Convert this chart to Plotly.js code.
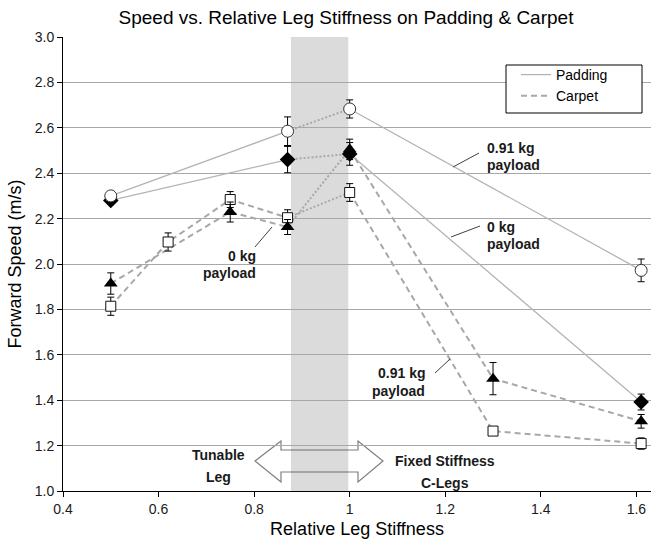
<!DOCTYPE html>
<html><head><meta charset="utf-8">
<script src="https://cdn.plot.ly/plotly-3.0.1.min.js"></script>
<style>html,body{margin:0;padding:0;background:#fff}#chart{width:652px;height:542px}</style>
</head><body><div id="chart"></div>
<script>
// ---- data ----
const padX = [0.5, 0.87, 1.0, 1.61];
const pad0kg = [2.28, 2.46, 2.485, 1.392];
const pad0kgErr = [0.01, 0.058, 0.05, 0.035];
const pad091kg = [2.30, 2.585, 2.683, 1.972];
const pad091kgErr = [0.015, 0.063, 0.04, 0.05];
const carX091 = [0.5, 0.62, 0.75, 0.87, 1.0, 1.3, 1.61];
const car091kg = [1.814, 2.097, 2.284, 2.204, 2.315, 1.264, 1.209];
const car091kgErr = [0.04, 0.04, 0.035, 0.035, 0.039, 0.015, 0.025];
const carX0 = [0.5, 0.75, 0.87, 1.0, 1.3, 1.61];
const car0kg = [1.914, 2.229, 2.163, 2.505, 1.495, 1.307];
const car0kgErr = [0.047, 0.044, 0.033, 0.045, 0.071, 0.03];
const tunableBand = [0.877, 0.997];
const tunableLo = 0.87, tunableHi = 1.0;
const legendNames = ['Padding', 'Carpet'];

// ---- styles ----
const FONT = 'Liberation Sans, Arial, sans-serif';
const solid = {color:'#b4b4b4', width:1.3};
const dashed = {color:'#a8a8a8', width:2, dash:'6px,4px'};
const dotted = {color:'#a8a8a8', width:2, dash:'2px,2px'};

function seg(xs, ys, lo, hi){
  const x=[], y=[];
  xs.forEach((v,i)=>{ if(v>=lo-1e-9 && v<=hi+1e-9){ x.push(v); y.push(ys[i]); } });
  return {x, y};
}
function lineTraces(xs, ys, outerStyle){
  const parts = [
    [seg(xs, ys, -Infinity, tunableLo), outerStyle],
    [seg(xs, ys, tunableLo, tunableHi), dotted],
    [seg(xs, ys, tunableHi, Infinity), outerStyle]
  ];
  return parts.map(([d, st]) => ({x:d.x, y:d.y, mode:'lines', line:st, showlegend:false, hoverinfo:'skip'}));
}
function markerTrace(xs, ys, err, marker){
  return {x:xs, y:ys, mode:'markers', marker:marker, showlegend:false,
    error_y:{type:'data', array:err, visible:true, color:'#000', thickness:1, width:3.5}};
}

const traces = [
  ...lineTraces(padX, pad091kg, solid),
  ...lineTraces(padX, pad0kg, solid),
  ...lineTraces(carX091, car091kg, dashed),
  ...lineTraces(carX0, car0kg, dashed),
  markerTrace(carX091, car091kg, car091kgErr, {symbol:'square', size:10, color:'white', line:{color:'#111', width:1}}),
  markerTrace(padX, pad0kg, pad0kgErr, {symbol:'diamond', size:12, color:'#000'}),
  markerTrace(padX, pad091kg, pad091kgErr, {symbol:'circle', size:12, color:'white', line:{color:'#333', width:1}}),
  markerTrace(carX0, car0kg, car0kgErr, {symbol:'triangle-up', size:12, color:'#000'}),
  {x:[null], y:[null], mode:'lines', name:legendNames[0], line:solid},
  {x:[null], y:[null], mode:'lines', name:legendNames[1], line:dashed}
];

// pixel helpers for decorations (plot area: l=63, t=37, w=588, h=454)
const L=63, T=37, W=588, H=454;
const px = p => (p-L)/W;
const py = p => 1-(p-T)/H;

const labelLines = [
  ['Tunable', 218, 455, 'center'], ['Leg', 218, 477, 'center'],
  ['Fixed Stiffness', 445, 461, 'center'], ['C-Legs', 445, 483, 'center'],
  ['0 kg', 258, 256, 'right'], ['payload', 258, 273, 'right'],
  ['0.91 kg', 485, 148, 'left'], ['payload', 485, 165, 'left'],
  ['0 kg', 485, 227, 'left'], ['payload', 485, 244, 'left'],
  ['0.91 kg', 427, 373, 'right'], ['payload', 427, 391, 'right']
];
const annotations = labelLines.map(([t, x, y, a]) => ({
  text:'<b>'+t+'</b>', xref:'paper', yref:'paper', x:px(x), y:py(y), xanchor:a, yanchor:'middle',
  showarrow:false, font:{family:FONT, size:14, color:'#1a1a1a'}
}));

const leaders = [[255,247,272,227],[453,167,479,153],[451,237,480,226],[435,373,450,359]];
const arrowPts = [[255,461],[281,441],[281,450],[358,450],[358,441],[383,461],[358,482],[358,472],[281,472],[281,482]];
const arrowPath = 'M' + arrowPts.map(p => px(p[0]).toFixed(5)+','+py(p[1]).toFixed(5)).join(' L') + ' Z';

const shapes = [
  {type:'path', xref:'paper', yref:'paper', path:arrowPath, fillcolor:'white', line:{color:'#7f7f7f', width:1.2}, layer:'between'},
  {type:'rect', xref:'x', yref:'paper', x0:tunableBand[0], x1:tunableBand[1], y0:0, y1:1, fillcolor:'rgba(0,0,0,0.14)', line:{width:0}, layer:'between'},
  ...leaders.map(([x0,y0,x1,y1]) => ({type:'line', xref:'paper', yref:'paper', x0:px(x0), y0:py(y0), x1:px(x1), y1:py(y1), line:{color:'#404040', width:1}})),
  {type:'rect', xref:'paper', yref:'paper', x0:px(506), x1:px(642), y0:py(113), y1:py(65), fillcolor:'white', line:{color:'#000', width:1}, layer:'above'}
];

const layout = {
  width:652, height:542,
  margin:{l:L, r:652-L-W, t:T, b:542-T-H},
  paper_bgcolor:'white', plot_bgcolor:'white',
  font:{family:FONT, color:'#1a1a1a'},
  title:{text:'Speed vs. Relative Leg Stiffness on Padding &amp; Carpet', font:{family:FONT, size:19, color:'#000'},
    xref:'container', yref:'container', x:346/652, xanchor:'center', y:1-17/542, yanchor:'middle'},
  xaxis:{range:[0.4, 0.4+W/477.8], tick0:0.4, dtick:0.2, showgrid:false, zeroline:false,
    showline:true, linecolor:'#000', linewidth:1, ticks:'outside', ticklen:5, tickcolor:'#000',
    tickfont:{size:14, color:'#1a1a1a'},
    title:{text:'Relative Leg Stiffness', font:{size:18, color:'#000'}, standoff:6}},
  yaxis:{range:[1,3], dtick:0.2, tickformat:'.1f', showgrid:true, gridcolor:'#a8a8a8', gridwidth:1, zeroline:false,
    showline:true, linecolor:'#000', linewidth:1, ticks:'outside', ticklen:5, tickcolor:'#000',
    tickfont:{size:14, color:'#1a1a1a'},
    title:{text:'Forward Speed (m/s)', font:{size:18, color:'#000'}, standoff:8}},
  legend:{x:px(516), y:py(59), xanchor:'left', yanchor:'top', bgcolor:'rgba(0,0,0,0)', borderwidth:0,
    font:{size:14, color:'#000'}, tracegroupgap:0},
  showlegend:true,
  annotations:annotations,
  shapes:shapes
};

Plotly.newPlot('chart', traces, layout, {displayModeBar:false, staticPlot:true});
</script>
</body></html>
